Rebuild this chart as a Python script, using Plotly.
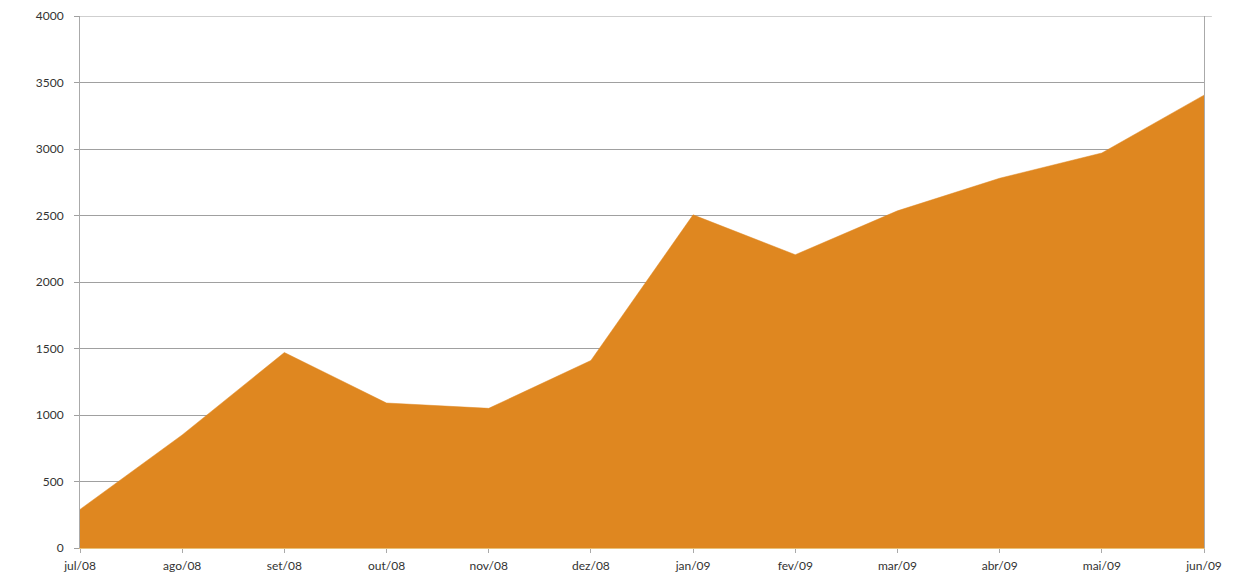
import plotly.graph_objects as go

# Monthly values, Jul/2008 – Jun/2009
months = ["jul/08", "ago/08", "set/08", "out/08", "nov/08", "dez/08",
          "jan/09", "fev/09", "mar/09", "abr/09", "mai/09", "jun/09"]
values = [290, 850, 1470, 1090, 1050, 1410, 2505, 2205, 2535, 2780, 2970, 3405]
y_ticks = [0, 500, 1000, 1500, 2000, 2500, 3000, 3500, 4000]

x_pos = list(range(len(months)))

fig = go.Figure()
fig.add_trace(go.Scatter(
    x=x_pos,
    y=values,
    mode="lines",
    line=dict(width=0.5, color="#DF8720"),
    fill="tozeroy",
    fillcolor="#DF8720",
    hoverinfo="x+y",
))

font = dict(family="Lato, 'Open Sans', sans-serif", size=12, color="#333333")

# Top gridline closing the frame at the upper end of the value axis
fig.add_shape(type="line", xref="paper", yref="y",
              x0=-0.004, x1=1.007, y0=y_ticks[-1], y1=y_ticks[-1],
              line=dict(color="#A0A0A0", width=1), layer="above")

fig.update_layout(
    width=1247,
    height=581,
    margin=dict(l=80, r=43, t=16, b=33),
    paper_bgcolor="white",
    plot_bgcolor="white",
    showlegend=False,
    font=font,
    xaxis=dict(
        range=[0, len(months) - 1],
        tickmode="array",
        tickvals=x_pos,
        ticktext=months,
        showgrid=False,
        zeroline=False,
        showline=True,
        linecolor="#E9C27A",
        linewidth=1,
        ticks="outside",
        ticklen=4,
        tickcolor="#AAAAAA",
        tickfont=font,
        ticklabelstandoff=3,
        automargin=False,
    ),
    yaxis=dict(
        range=[0, 4000],
        tickmode="array",
        tickvals=y_ticks,
        showgrid=True,
        gridcolor="#A0A0A0",
        gridwidth=1,
        zeroline=False,
        showline=True,
        linecolor="#AAAAAA",
        linewidth=1,
        mirror=True,
        ticks="outside",
        ticklen=5,
        tickcolor="#A0A0A0",
        tickfont=font,
        ticklabelstandoff=8,
        layer="above traces",
        automargin=False,
    ),
)

fig.write_html("out.html")
